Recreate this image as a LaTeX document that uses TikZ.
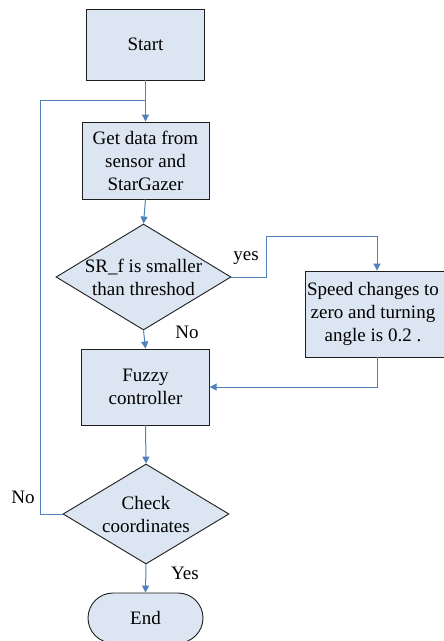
\documentclass[tikz,border=0pt]{standalone}
\usepackage{fontspec}
\setmainfont{Liberation Serif}
\usetikzlibrary{shapes.geometric,arrows.meta}
\definecolor{boxfill}{RGB}{220,230,242}
\definecolor{linkblue}{RGB}{79,129,189}
\definecolor{edgegray}{RGB}{30,30,30}
\tikzset{
  procbox/.style={draw=edgegray, line width=0.9pt, fill=boxfill, rectangle, inner sep=0pt, align=center, font=\fontsize{19}{23}\selectfont},
  decbox/.style={draw=edgegray, line width=0.9pt, fill=boxfill, diamond, inner sep=0pt},
  termbox/.style={draw=edgegray, line width=0.9pt, fill=boxfill, rectangle, rounded corners=25pt, inner sep=0pt, font=\fontsize{19}{23}\selectfont},
  txt/.style={align=center, inner sep=0pt, font=\fontsize{19}{23}\selectfont},
  lbl/.style={inner sep=0pt, font=\fontsize{19}{23}\selectfont},
  link/.style={draw=linkblue, line width=1pt},
  arr/.style={link, -{Triangle[width=7pt,length=7pt]}}
}
\begin{document}
\begin{tikzpicture}[x=1pt,y=-1pt]
\clip (0,0) rectangle (444,641);
\fill[white] (0,0) rectangle (444,641);

\node[procbox, minimum width=117.5pt, minimum height=71pt] (start) at (145.5,44.5) {Start};
\node[procbox, minimum width=127pt, minimum height=77pt] (get) at (145.5,160.5) {Get data from\\sensor and\\StarGazer};
\node[decbox, minimum width=175pt, minimum height=106pt] (dec) at (143.5,277) {};
\node[txt] (dect) at (143.5,277) {SR\_f is smaller\\than threshod};
\node[procbox, minimum width=144pt, minimum height=86pt] (speed) at (377,314) {};
\node[txt] (speedt) at (373,314) {Speed changes to\\zero and turning\\angle is 0.2 .};
\node[procbox, minimum width=127.5pt, minimum height=76pt] (fuzzy) at (145.5,387) {Fuzzy\\controller};
\node[decbox, minimum width=166pt, minimum height=100pt] (check) at (146,514) {};
\node[txt] (checkt) at (146,514) {Check\\coordinates};
\node[termbox, minimum width=115pt, minimum height=50pt] (end) at (145.5,618) {End};

\coordinate (join) at (145.5,100);
\coordinate (loopA) at (40,514);
\coordinate (loopB) at (40,100);
\coordinate (yesA) at (266,277);
\coordinate (yesB) at (266,236.5);
\coordinate (yesC) at (377,236.5);
\coordinate (backA) at (377,387);

\draw[arr] (start.south) -- (get.north);
\draw[link] (check.west) -- (loopA) -- (loopB) -- (join);
\draw[arr] (get.south) -- (dec.north);
\draw[arr] (dec.east) -- (yesA) -- (yesB) -- (yesC) -- (speed.north);
\draw[arr] (dec.south) -- (fuzzy.north);
\draw[arr] (speed.south) -- (backA) -- (fuzzy.east);
\draw[arr] (fuzzy.south) -- (check.north);
\draw[arr] (check.south) -- (end.north);

\node[lbl] (lyes) at (246,258) {yes};
\node[lbl] (lno1) at (187,332) {No};
\node[lbl] (lno2) at (23,497) {No};
\node[lbl] (lyes2) at (185,573) {Yes};
\end{tikzpicture}
\end{document}
